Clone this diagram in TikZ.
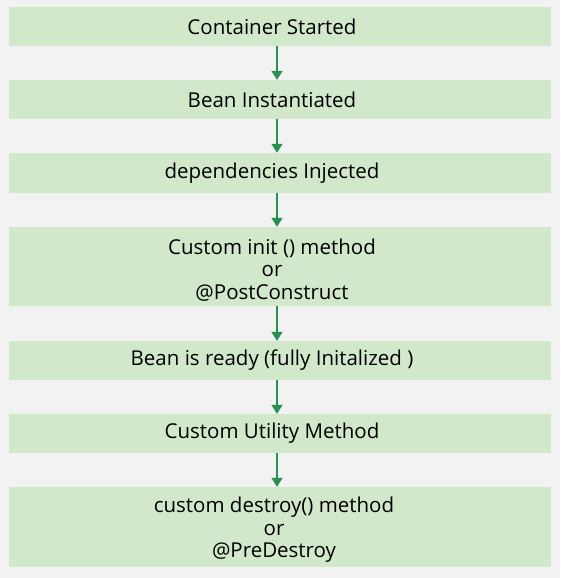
\documentclass[tikz,border=0pt]{standalone}
\usepackage{fontspec}
\setmainfont{Open Sans}
\usetikzlibrary{arrows.meta}
\definecolor{pagebg}{HTML}{F2F2F2}
\definecolor{boxfill}{HTML}{D2E8CA}
\definecolor{arrowgreen}{HTML}{2A9050}
\begin{document}
\begin{tikzpicture}[x=1pt,y=-1pt,
  stagebox/.style={fill=boxfill, draw=none, minimum width=542pt, inner sep=0pt},
  stagetext/.style={align=center, inner sep=0pt, text=black,
    font=\fontsize{20.5}{22.5}\selectfont},
  flow/.style={draw=arrowgreen, line width=1.6pt,
    -{Triangle[length=9pt,width=11pt]}}]
  \fill[pagebg] (0,0) rectangle (560,578);
  \useasboundingbox (0,0) rectangle (560,578);
  % stage boxes
  \node[stagebox, minimum height=39pt] (s1) at (280,26.5) {};
  \node[stagebox, minimum height=39pt] (s2) at (280,99.5) {};
  \node[stagebox, minimum height=40pt] (s3) at (280,173) {};
  \node[stagebox, minimum height=79pt] (s4) at (280,266.5) {};
  \node[stagebox, minimum height=39pt] (s5) at (280,360.5) {};
  \node[stagebox, minimum height=39pt] (s6) at (280,433.5) {};
  \node[stagebox, minimum height=80pt] (s7) at (280,527) {};
  % stage captions
  \node[stagetext] (t1) at ([xshift=-8pt]s1.center) {Container Started};
  \node[stagetext] (t2) at ([xshift=-8pt]s2.center) {Bean Instantiated};
  \node[stagetext] (t3) at ([xshift=-8pt]s3.center) {dependencies Injected};
  \node[stagetext] (t4) at ([xshift=-8pt,yshift=-3.5pt]s4.center) {Custom init () method\\or\\@PostConstruct};
  \node[stagetext] (t5) at ([xshift=-8pt]s5.center) {Bean is ready (fully Initalized )};
  \node[stagetext] (t6) at ([xshift=-8pt]s6.center) {Custom Utility Method};
  \node[stagetext] (t7) at ([xshift=-6pt,yshift=-3pt]s7.center) {custom destroy() method\\or\\@PreDestroy};
  % flow arrows
  \foreach \a/\b in {s1/s2,s2/s3,s3/s4,s4/s5,s5/s6,s6/s7}
    \draw[flow] ([xshift=-3pt]\a.south) -- ([xshift=-3pt]\b.north);
\end{tikzpicture}
\end{document}
